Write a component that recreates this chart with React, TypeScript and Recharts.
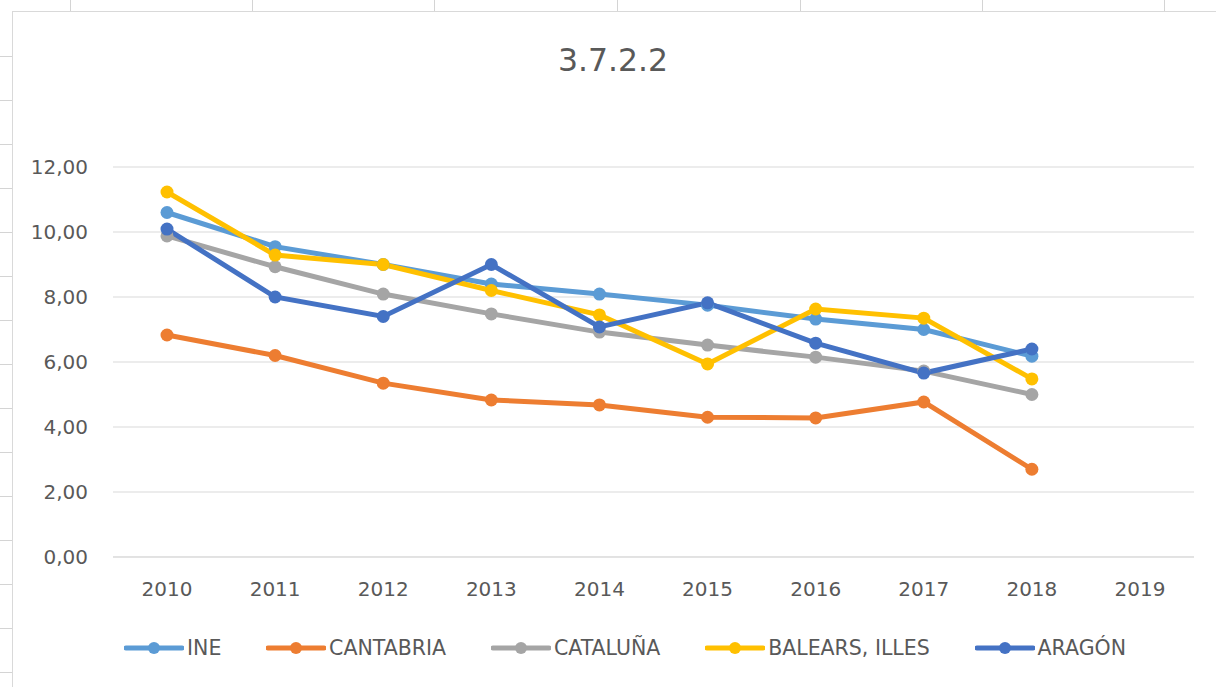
import React from 'react';
import {LineChart, Line, XAxis, YAxis, CartesianGrid} from 'recharts';

const years = ['2010', '2011', '2012', '2013', '2014', '2015', '2016', '2017', '2018', '2019'];
const ine = [10.6, 9.55, 9.0, 8.4, 8.09, 7.75, 7.32, 7.0, 6.18, null];
const cantabria = [6.83, 6.2, 5.35, 4.83, 4.68, 4.3, 4.28, 4.77, 2.7, null];
const cataluna = [9.88, 8.93, 8.09, 7.48, 6.92, 6.52, 6.15, 5.72, 5.0, null];
const balears = [11.23, 9.29, 9.0, 8.2, 7.45, 5.94, 7.63, 7.35, 5.48, null];
const aragon = [10.09, 8.0, 7.4, 9.0, 7.08, 7.82, 6.58, 5.66, 6.4, null];
const yTicks = [0, 2, 4, 6, 8, 10, 12];

const series = [
    {key: 'ine', name: 'INE', color: '#5B9BD5', values: ine},
    {key: 'cantabria', name: 'CANTABRIA', color: '#ED7D31', values: cantabria},
    {key: 'cataluna', name: 'CATALUÑA', color: '#A5A5A5', values: cataluna},
    {key: 'balears', name: 'BALEARS, ILLES', color: '#FFC000', values: balears},
    {key: 'aragon', name: 'ARAGÓN', color: '#4472C4', values: aragon},
];

const data = years.map((year, i) => {
    const row: Record<string, string | number | null> = {year};
    series.forEach(s => {
        row[s.key] = s.values[i];
    });
    return row;
});

const FONT = '"DejaVu Sans", sans-serif';
const TEXT = '#595959';
const CELL_LINE = '#D4D4D4';

const colLines = [70, 252, 434, 617, 800, 982, 1164];
const rowLines = [56, 100, 144, 188, 232, 276, 320, 364, 408, 452, 496, 540, 584, 628, 672];

const fmt = (v: number) => v.toFixed(2).replace('.', ',');

export default function App() {
    return (
        <div style={{position: 'fixed', left: 0, top: 0, width: 1216, height: 687, background: '#fff', overflow: 'hidden'}}>
            {/* spreadsheet cells around the chart */}
            {colLines.map(x => (
                <div key={'c' + x} style={{position: 'absolute', left: x, top: 0, width: 1, height: 11, background: CELL_LINE}}/>
            ))}
            {rowLines.map(y => (
                <div key={'r' + y} style={{position: 'absolute', left: 0, top: y, width: 12, height: 1, background: CELL_LINE}}/>
            ))}
            <div style={{position: 'absolute', left: 12, top: 11, right: 0, bottom: 0, borderLeft: '1px solid #D9D9D9', borderTop: '1px solid #D9D9D9'}}/>

            <div style={{position: 'absolute', left: 0, width: 1226, top: 42, textAlign: 'center', fontFamily: FONT, fontSize: 31.5, color: TEXT}}>
                3.7.2.2
            </div>

            <div style={{position: 'absolute', left: 0, top: 0}}>
                <LineChart width={1216} height={687} data={data}
                           margin={{top: 167, right: 22, left: 33, bottom: 70}}>
                    <CartesianGrid vertical={false} stroke="#D9D9D9" strokeWidth={1}/>
                    <XAxis dataKey="year" height={60} padding={{left: 54, right: 54}}
                           axisLine={{stroke: '#D9D9D9'}} tickLine={false} tickSize={0} tickMargin={25}
                           tick={{fill: TEXT, fontSize: 20, fontFamily: FONT}}/>
                    <YAxis width={80} domain={[0, 12]} ticks={yTicks} tickFormatter={fmt}
                           axisLine={false} tickLine={false} tickSize={0} tickMargin={25}
                           tick={{fill: TEXT, fontSize: 20, fontFamily: FONT}}/>
                    {series.map(s => (
                        <Line key={s.key} dataKey={s.key} name={s.name} stroke={s.color} strokeWidth={5}
                              dot={{r: 6.5, fill: s.color, stroke: s.color, strokeWidth: 0}}
                              activeDot={false} isAnimationActive={false}/>
                    ))}
                </LineChart>
            </div>

            <div style={{position: 'absolute', left: 124, width: 1002, top: 634, height: 28, display: 'flex',
                justifyContent: 'space-between', alignItems: 'center', fontFamily: FONT, fontSize: 20.5, color: TEXT}}>
                {series.map(s => (
                    <div key={s.key} style={{display: 'flex', alignItems: 'center'}}>
                        <svg width={60} height={14}>
                            <line x1={2} y1={7} x2={58} y2={7} stroke={s.color} strokeWidth={5} strokeLinecap="round"/>
                            <circle cx={30} cy={7} r={6} fill={s.color}/>
                        </svg>
                        <span style={{marginLeft: 3, whiteSpace: 'nowrap'}}>{s.name}</span>
                    </div>
                ))}
            </div>
        </div>
    );
}
